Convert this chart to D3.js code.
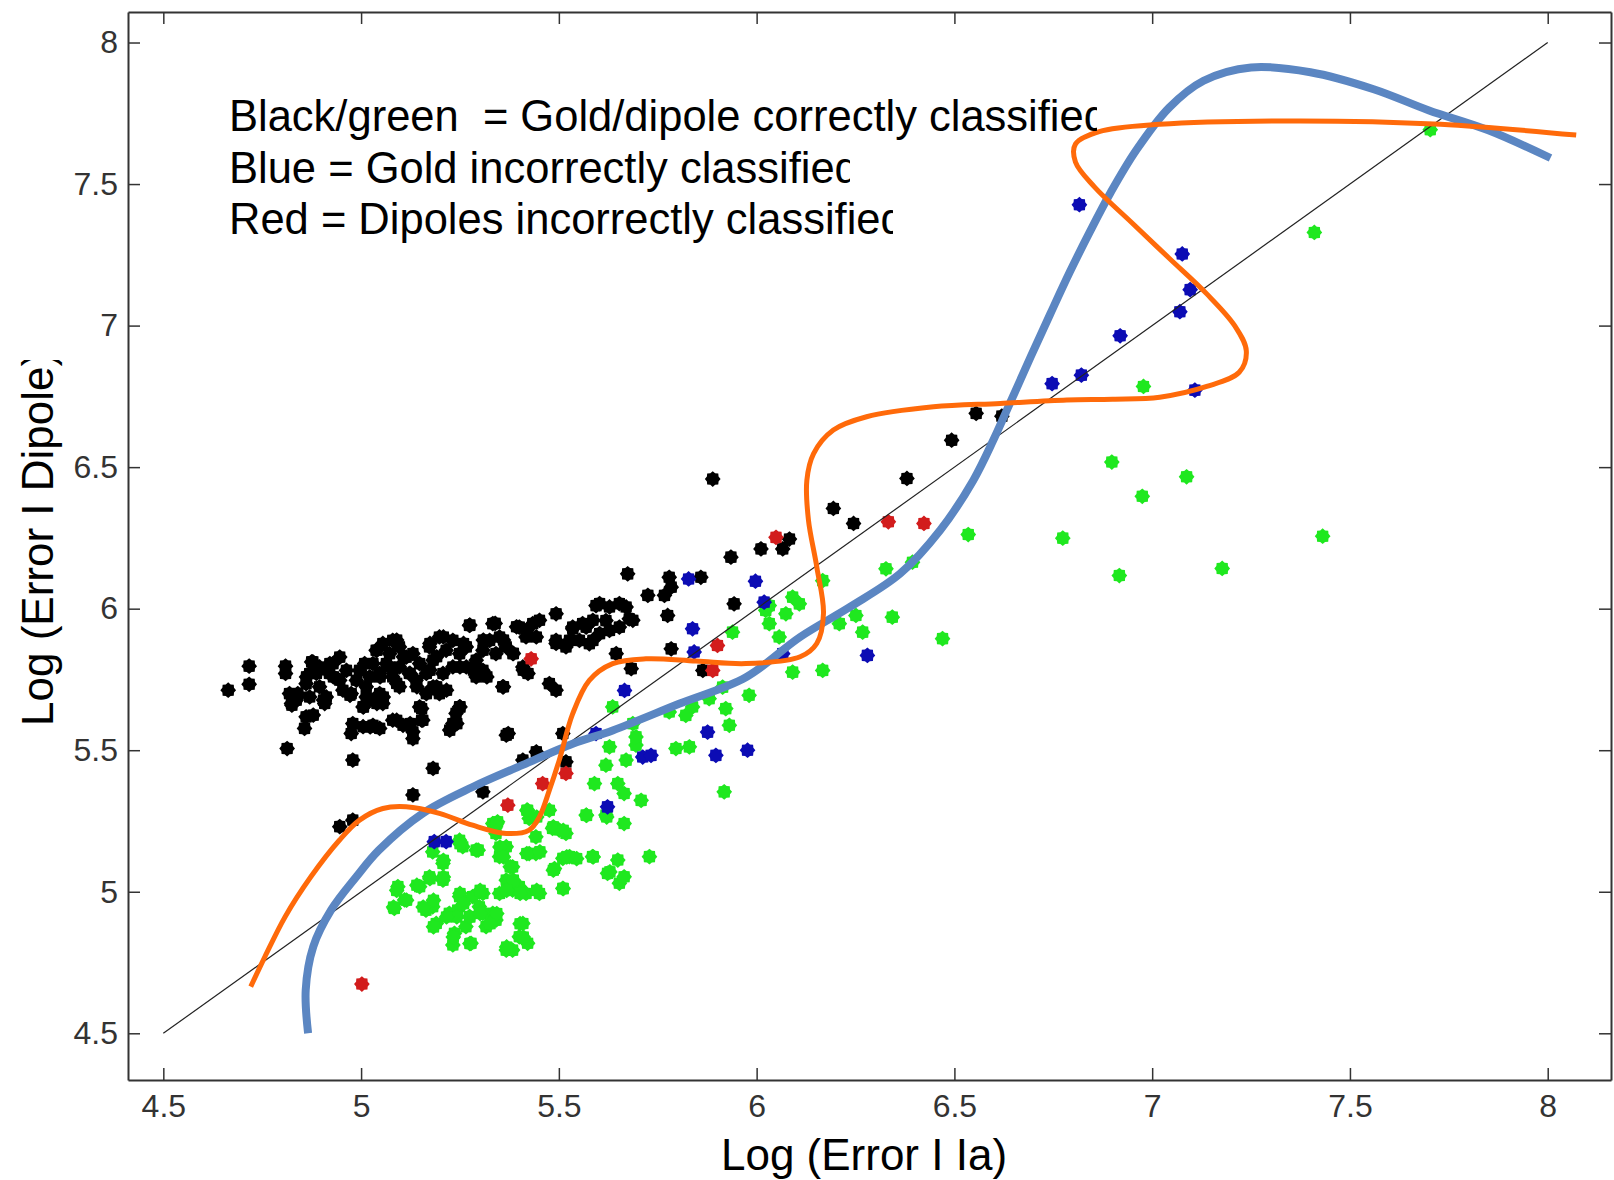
<!DOCTYPE html>
<html>
<head>
<meta charset="utf-8">
<title>Log Error scatter</title>
<script src="https://cdn.jsdelivr.net/npm/d3@7"></script>
<style>
  body { margin: 0; background: #fff; }
  svg { display: block; font-family: "Liberation Sans", Arial, Helvetica, sans-serif; }
  .axis path, .axis line { stroke: #333; }
  .axis path { stroke-width: 2; }
  .axis line { stroke-width: 1.5; }
  .axis text { fill: #333; font-size: 32px; font-family: "Liberation Sans", Arial, sans-serif; }
</style>
</head>
<body>
<div id="chart"></div>
<script>
// tick values
const xTicks = [4.5, 5, 5.5, 6, 6.5, 7, 7.5, 8]
const yTicks = [4.5, 5, 5.5, 6, 6.5, 7, 7.5, 8]

// black: gold correctly classified
const goldCorrect = [
  [4.664,5.712],[4.717,5.797],[4.717,5.733],[4.809,5.797],[4.809,5.771],[4.813,5.506],[4.824,5.665],[4.840,5.700],
  [4.870,5.688],[4.861,5.618],[4.857,5.577],[4.878,5.812],[4.870,5.771],[4.861,5.735],[4.895,5.724],[4.912,5.688],
  [4.908,5.665],[4.929,5.806],[4.946,5.829],[4.963,5.782],[4.946,5.747],[4.920,5.771],[4.975,5.700],[4.988,5.747],
  [5.009,5.806],[5.013,5.724],[5.005,5.653],[4.979,5.594],[4.975,5.559],[5.005,5.583],[5.030,5.588],[5.047,5.577],
  [4.979,5.465],[5.038,5.853],[5.055,5.877],[5.080,5.888],[5.097,5.865],[5.114,5.829],[5.064,5.806],[5.047,5.771],
  [5.080,5.759],[5.097,5.724],[5.047,5.700],[5.055,5.665],[5.030,5.677],[5.131,5.841],[5.148,5.806],[5.173,5.865],
  [5.182,5.818],[5.198,5.900],[5.215,5.853],[5.207,5.771],[5.182,5.724],[5.165,5.700],[5.198,5.700],[5.080,5.606],
  [5.106,5.588],[5.131,5.565],[5.131,5.541],[5.148,5.653],[5.156,5.606],[5.232,5.594],[5.240,5.630],[5.249,5.653],
  [5.224,5.571],[5.182,5.436],[5.131,5.342],[5.266,5.865],[5.274,5.941],[5.291,5.818],[5.308,5.782],[5.325,5.888],
  [5.333,5.947],[5.350,5.900],[5.367,5.865],[5.291,5.759],[5.358,5.724],[5.367,5.553],[5.384,5.841],[5.400,5.935],
  [5.417,5.900],[5.434,5.947],[5.451,5.959],[5.443,5.900],[5.409,5.794],[5.422,5.771],[5.476,5.735],[5.493,5.712],
  [5.493,5.982],[5.493,5.877],[5.518,5.865],[5.535,5.935],[5.560,5.947],[5.586,5.959],[5.603,6.018],[5.628,6.006],
  [5.653,6.018],[5.670,6.006],[5.687,5.959],[5.653,5.935],[5.552,5.888],[5.586,5.888],[5.603,5.912],[5.645,5.841],
  [5.674,6.123],[5.683,5.788],[5.443,5.494],[5.409,5.465],[5.308,5.353],[5.518,5.459],[4.946,5.230],[4.979,5.253],
  [4.887,5.771],[4.895,5.794],[4.996,5.782],[5.022,5.759],[5.030,5.806],[5.072,5.841],[5.097,5.794],[5.122,5.771],
  [5.139,5.747],[5.165,5.771],[5.232,5.888],[5.249,5.841],[5.266,5.794],[5.308,5.853],[5.341,5.841],[5.232,5.794],
  [4.954,5.712],[5.013,5.688],[4.836,5.677],[4.819,5.700],
  [4.875,5.812],[4.862,5.759],[4.837,5.688],[4.825,5.659],[4.879,5.624],[4.905,5.677],[4.921,5.806],[4.930,5.759],
  [4.972,5.694],[5.006,5.653],[5.040,5.853],[5.048,5.759],[5.056,5.688],[5.040,5.665],[5.090,5.889],[5.107,5.830],
  [5.073,5.794],[5.124,5.771],[5.090,5.736],[5.141,5.724],[5.174,5.877],[5.208,5.900],[5.191,5.830],[5.174,5.783],
  [5.191,5.724],[5.216,5.712],[5.259,5.877],[5.275,5.942],[5.309,5.889],[5.339,5.948],[5.360,5.889],[5.393,5.936],
  [5.419,5.924],[5.250,5.794],[5.284,5.783],[5.318,5.759],[5.385,5.842],[5.410,5.783],[5.360,5.724],[5.023,5.582],
  [5.090,5.606],[5.124,5.594],[5.153,5.647],[5.153,5.606],[5.250,5.653],[5.242,5.594],[5.372,5.559],
  [5.889,6.458],[6.083,6.246],[6.066,6.211],[6.011,6.211],[5.935,6.182],[5.859,6.111],[5.779,6.111],[5.784,6.076],
  [5.767,6.047],[5.725,6.047],[5.775,5.976],[5.943,6.017],[5.784,5.858],[5.864,5.782],[5.510,5.559],[5.535,5.929],
  [5.569,5.935],[5.594,6.011],[5.619,5.958],[5.527,5.888],[5.577,5.876],[5.493,5.888],[5.678,5.964],[5.628,5.923],
  [6.194,6.354],[6.245,6.301],[6.380,6.460],[6.493,6.595],[6.555,6.690],[6.620,6.680]
]

// green: dipole correctly classified
const dipoleCorrect = [
  [5.628,5.512],[5.670,5.465],[5.619,5.447],[5.695,5.518],[5.796,5.506],[5.830,5.512],[5.918,5.353],[5.590,5.382],
  [5.649,5.382],[5.665,5.347],[5.708,5.323],[5.569,5.271],[5.619,5.271],[5.665,5.241],[5.729,5.124],[5.585,5.124],
  [5.649,5.112],[5.527,5.124],[5.510,5.118],[5.489,5.082],[5.510,5.012],[5.623,5.065],[5.653,5.030],[5.665,5.053],
  [5.476,5.288],[5.484,5.224],[5.501,5.218],[5.518,5.206],[5.421,5.288],[5.425,5.259],[5.442,5.194],[5.425,5.135],
  [5.442,5.135],[5.333,5.241],[5.345,5.247],[5.367,5.159],[5.350,5.124],[5.383,5.088],[5.367,5.041],[5.383,5.006],
  [5.400,5.018],[5.417,4.994],[5.451,4.994],[5.350,4.994],[5.308,4.994],[5.282,4.983],[5.299,4.947],[5.333,4.924],
  [5.341,4.900],[5.274,4.912],[5.249,4.983],[5.244,4.935],[5.265,4.877],[5.236,4.853],[5.223,4.924],[5.181,4.947],
  [5.164,4.935],[5.190,4.888],[5.148,5.018],[5.093,5.018],[5.110,4.971],[5.084,4.941],[5.173,5.053],[5.207,5.041],
  [5.207,5.100],[5.181,5.141],[5.249,5.182],[5.257,5.159],[5.291,5.147],[5.341,5.206],[5.409,4.888],[5.400,4.841],
  [5.421,4.818],[5.367,4.794],[5.383,4.794],[5.278,4.818],[5.232,4.812],[5.316,4.877],[5.308,4.924],
  [5.343,5.241],[5.351,5.158],[5.360,5.123],[5.377,5.088],[5.385,5.041],[5.368,5.005],[5.402,4.994],[5.444,5.005],
  [5.419,5.135],[5.452,5.141],[5.419,5.288],[5.444,5.264],[5.486,5.229],[5.511,5.217],[5.520,5.123],[5.545,5.117],
  [5.486,5.076],[5.511,5.011],[5.587,5.123],[5.570,5.270],[5.621,5.264],[5.629,5.070],[5.250,5.170],[5.296,5.147],
  [5.208,5.111],[5.208,5.052],[5.174,5.046],[5.141,5.023],[5.090,5.005],[5.082,4.946],[5.115,4.970],[5.157,4.946],
  [5.183,4.970],[5.250,4.994],[5.301,5.005],[5.259,4.958],[5.242,4.911],[5.275,4.911],[5.301,4.923],[5.343,4.923],
  [5.326,4.887],[5.183,4.876],[5.216,4.911],[5.233,4.840],[5.275,4.817],[5.402,4.887],[5.410,4.840],[5.368,4.805],
  [6.470,5.894],[6.343,5.970],[6.268,5.917],[6.251,5.976],[6.209,5.947],[6.167,5.782],[6.091,5.776],[6.167,6.099],
  [6.091,6.041],[6.108,6.017],[6.074,5.982],[6.023,5.994],[6.032,5.947],[6.057,5.900],[5.939,5.917],[5.981,5.694],
  [5.914,5.723],[5.922,5.647],[5.931,5.588],[5.880,5.682],[5.838,5.653],[5.821,5.623],[5.779,5.635],[5.695,5.547],
  [5.687,5.594],[5.636,5.653],[6.327,6.141],[6.394,6.164],[6.032,6.011],
  [7.703,7.692],[7.410,7.329],[6.978,6.785],[6.898,6.518],[7.087,6.466],[6.975,6.397],[6.535,6.262],[6.774,6.249],
  [7.431,6.256],[6.917,6.117],[7.177,6.142]
]

// blue: gold incorrectly classified
const goldWrong = [
  [5.185,5.177],[5.215,5.177],[5.623,5.300],[5.666,5.711],[5.594,5.559],[5.712,5.476],[5.733,5.482],[5.897,5.482],
  [5.977,5.500],[5.876,5.564],[5.828,6.105],[5.997,6.097],[6.019,6.023],[5.838,5.929],[5.842,5.847],[6.066,5.841],
  [6.280,5.835],[6.816,7.427],[7.076,7.253],[7.096,7.127],[7.070,7.049],[6.919,6.964],[6.821,6.825],[6.747,6.795],
  [7.108,6.772]
]

// red: dipoles incorrectly classified
const dipoleWrong = [
  [5.430,5.823],[5.371,5.306],[5.459,5.382],[5.518,5.418],[5.002,4.674],[5.901,5.870],[5.889,5.782],[6.049,6.252],
  [6.333,6.307],[6.423,6.301]
]

// hand-drawn overlay curves
const blueCurve = [
  [4.866,4.500],[4.860,4.653],[4.879,4.806],[4.924,4.935],[4.988,5.053],[5.045,5.147],[5.156,5.277],[5.282,5.370],
  [5.409,5.448],[5.535,5.523],[5.636,5.570],[5.804,5.664],[5.973,5.758],[6.110,5.900],[6.236,6.006],[6.363,6.124],
  [6.464,6.277],[6.548,6.454],[6.600,6.600],[6.645,6.740],[6.693,6.890],[6.742,7.040],[6.792,7.190],[6.842,7.330],
  [6.895,7.470],[6.960,7.620],[7.043,7.770],[7.130,7.865],[7.250,7.912],[7.400,7.895],[7.560,7.835],[7.700,7.760],
  [7.850,7.690],[8.007,7.592]
]
const orangeCurve = [
  [4.721,4.665],[4.757,4.771],[4.808,4.912],[4.873,5.053],[4.945,5.182],[4.996,5.253],[5.055,5.294],[5.114,5.300],
  [5.198,5.277],[5.282,5.235],[5.367,5.206],[5.425,5.218],[5.451,5.265],[5.476,5.359],[5.501,5.465],[5.535,5.629],
  [5.577,5.747],[5.636,5.806],[5.720,5.823],[5.847,5.815],[5.973,5.806],[6.110,5.830],[6.152,5.877],[6.169,5.983],
  [6.152,6.148],[6.131,6.313],[6.127,6.454],[6.144,6.548],[6.194,6.631],[6.278,6.678],[6.447,6.713],[6.616,6.725],
  [6.784,6.737],[6.900,6.740],[7.019,6.747],[7.138,6.785],[7.220,6.835],[7.238,6.911],[7.209,6.999],[7.138,7.112],
  [7.043,7.238],[6.948,7.364],[6.854,7.490],[6.806,7.578],[6.806,7.641],[6.866,7.685],[7.019,7.711],[7.374,7.723],
  [7.729,7.711],[8.072,7.673]
]
const diagonal = [[4.5, 4.5], [8, 8]]

const legendLines = [
  'Black/green  = Gold/dipole correctly classified',
  'Blue = Gold incorrectly classified',
  'Red = Dipoles incorrectly classified',
]
const legendCut = [1097, 850, 893]
const xLabel = 'Log (Error I Ia)'
const yLabel = 'Log (Error I Dipole)'

function draw() {
  const dimensions = {
    width: 1614,
    height: 1180,
    margins: { left: 128, right: 3, top: 12, bottom: 100 },
  }
  const left = dimensions.margins.left
  const right = dimensions.width - dimensions.margins.right
  const top = dimensions.margins.top
  const bottom = dimensions.height - dimensions.margins.bottom

  // Scales
  const xScale = d3.scaleLinear().domain([4.4107, 8.16]).range([left, right])
  const yScale = d3.scaleLinear().domain([4.335, 8.1078]).range([bottom, top])

  const svg = d3
    .select('#chart')
    .append('svg')
    .attr('width', dimensions.width)
    .attr('height', dimensions.height)
    .style('background-color', '#fff')

  const defs = svg.append('defs')

  // MATLAB-ish bold asterisk marker
  const star8 = {
    draw(ctx, size) {
      const R = Math.sqrt(size)
      const r = R * 0.8
      for (let i = 0; i < 16; i++) {
        const a = (i * Math.PI) / 8 - Math.PI / 2
        const rr = i % 2 ? r : R
        const px = rr * Math.cos(a)
        const py = rr * Math.sin(a)
        if (i) ctx.lineTo(px, py)
        else ctx.moveTo(px, py)
      }
      ctx.closePath()
    },
  }
  const marker = d3.symbol().type(star8).size(62)

  const groups = [
    { data: goldCorrect, color: '#000000' },
    { data: dipoleCorrect, color: '#1fe81f' },
    { data: goldWrong, color: '#0c0cb4' },
    { data: dipoleWrong, color: '#d21c1c' },
  ]
  groups.forEach((g) => {
    svg
      .append('g')
      .selectAll('path')
      .data(g.data)
      .join('path')
      .attr('d', marker)
      .attr('transform', (d) => `translate(${xScale(d[0])},${yScale(d[1])})`)
      .attr('fill', g.color)
  })

  const line = d3
    .line()
    .x((d) => xScale(d[0]))
    .y((d) => yScale(d[1]))

  svg.append('path').datum(diagonal).attr('d', line).attr('fill', 'none').attr('stroke', '#222').attr('stroke-width', 1.2)

  const smooth = line.curve(d3.curveCatmullRom.alpha(0.5))
  svg
    .append('path')
    .datum(blueCurve)
    .attr('d', smooth)
    .attr('fill', 'none')
    .attr('stroke', '#5b86c2')
    .attr('stroke-width', 8)
    .attr('stroke-linecap', 'butt')
  svg
    .append('path')
    .datum(orangeCurve)
    .attr('d', smooth)
    .attr('fill', 'none')
    .attr('stroke', '#ff6a0a')
    .attr('stroke-width', 5)
    .attr('stroke-linecap', 'butt')

  // Axes (box with inward ticks)
  const fmt = (d) => String(d)
  svg
    .append('g')
    .attr('class', 'axis')
    .attr('transform', `translate(0,${bottom})`)
    .call(d3.axisBottom(xScale).tickValues(xTicks).tickSize(-12).tickSizeOuter(0).tickPadding(14).tickFormat(fmt))
  svg
    .append('g')
    .attr('class', 'axis')
    .attr('transform', `translate(0,${top})`)
    .call(d3.axisTop(xScale).tickValues(xTicks).tickSize(-12).tickSizeOuter(0).tickFormat(''))
  svg
    .append('g')
    .attr('class', 'axis')
    .attr('transform', `translate(${left},0)`)
    .call(d3.axisLeft(yScale).tickValues(yTicks).tickSize(-12).tickSizeOuter(0).tickPadding(10).tickFormat(fmt))
  svg
    .append('g')
    .attr('class', 'axis')
    .attr('transform', `translate(${right},0)`)
    .call(d3.axisRight(yScale).tickValues(yTicks).tickSize(-12).tickSizeOuter(0).tickFormat(''))

  // Legend text (cut off at the right like the original)
  legendLines.forEach((t, i) => {
    const id = `cut${i}`
    defs.append('clipPath').attr('id', id).append('rect').attr('x', 0).attr('y', 0).attr('width', legendCut[i]).attr('height', dimensions.height)
    svg
      .append('g')
      .attr('clip-path', `url(#${id})`)
      .append('text')
      .attr('x', 229)
      .attr('y', 131 + i * 51.5)
      .style('white-space', 'pre')
      .style('font-size', '43.5px')
      .attr('fill', '#000')
      .text(t)
  })

  // axis titles
  svg
    .append('text')
    .attr('x', 864)
    .attr('y', 1170)
    .attr('text-anchor', 'middle')
    .style('font-size', '44px')
    .attr('fill', '#000')
    .text(xLabel)

  defs.append('clipPath').attr('id', 'ycut').append('rect').attr('x', 0).attr('y', 360).attr('width', 128).attr('height', 800)
  svg
    .append('g')
    .attr('clip-path', 'url(#ycut)')
    .append('text')
    .attr('transform', 'translate(53,726) rotate(-90)')
    .style('font-size', '44px')
    .attr('fill', '#000')
    .text(yLabel)
}

draw()
</script>
</body>
</html>
